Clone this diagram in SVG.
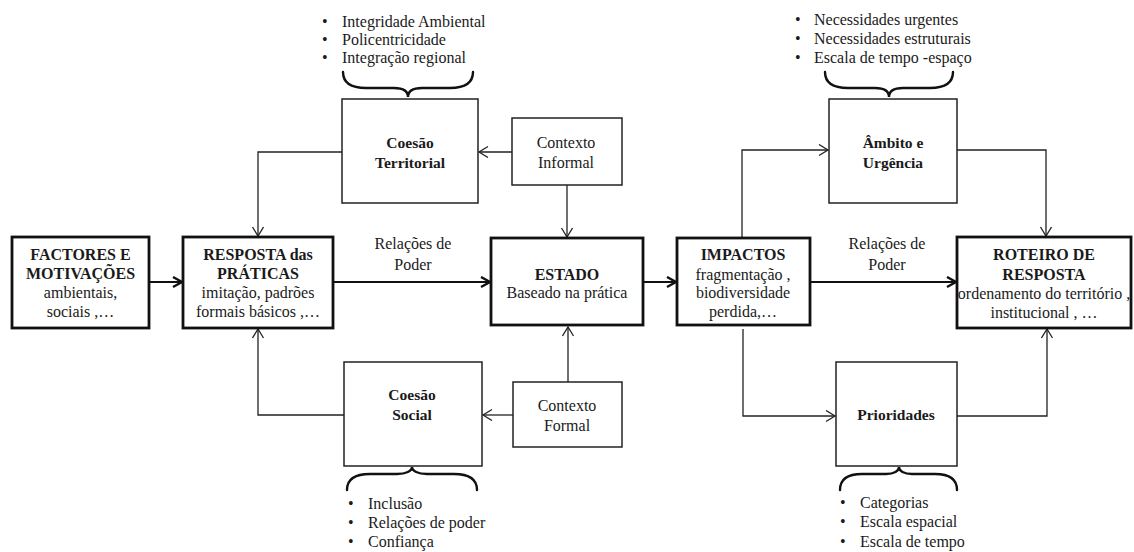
<svg xmlns="http://www.w3.org/2000/svg" width="1134" height="552" viewBox="0 0 1134 552">
  <style>
    text { font-family: "Liberation Serif", "Times New Roman", serif; font-size: 16px; fill: #1a1a1a; }
    .b { font-weight: bold; }
    .c { text-anchor: middle; }
    .sub { font-size: 15.5px; }
    .main { fill: #fff; stroke: #111; stroke-width: 2.8; }
    .aux { fill: #fff; stroke: #222; stroke-width: 1.5; }
    .flow { fill: none; stroke: #111; stroke-width: 2; }
    .link { fill: none; stroke: #222; stroke-width: 1.3; }
    .brace { fill: none; stroke: #111; stroke-width: 2.4; stroke-linecap: round; }
  </style>
  <defs>
    <marker id="headBold" markerUnits="userSpaceOnUse" markerWidth="14" markerHeight="14" refX="10" refY="6" orient="auto">
      <path d="M1,1 L10,6 L1,11" fill="none" stroke="#111" stroke-width="2.4"/>
    </marker>
    <marker id="headThin" markerUnits="userSpaceOnUse" markerWidth="14" markerHeight="14" refX="10" refY="6" orient="auto">
      <path d="M1,0.5 L10,6 L1,11.5" fill="none" stroke="#222" stroke-width="1.3"/>
    </marker>
  </defs>

  <rect width="1134" height="552" fill="#fff"/>

  <!-- connectors -->
  <g id="connectors">
    <line class="flow" x1="150" y1="282" x2="182" y2="282" marker-end="url(#headBold)"/>
    <line class="flow" x1="334" y1="282" x2="490" y2="282" marker-end="url(#headBold)"/>
    <line class="flow" x1="644" y1="282" x2="676" y2="282" marker-end="url(#headBold)"/>
    <line class="flow" x1="811" y1="282" x2="956" y2="282" marker-end="url(#headBold)"/>

    <line class="link" x1="512" y1="152" x2="479" y2="152" marker-end="url(#headThin)"/>
    <polyline class="link" points="342,152 258,152 258,236" marker-end="url(#headThin)"/>
    <line class="link" x1="567" y1="185" x2="567" y2="237" marker-end="url(#headThin)"/>

    <line class="link" x1="513" y1="415" x2="483" y2="415" marker-end="url(#headThin)"/>
    <polyline class="link" points="344,415 258,415 258,329" marker-end="url(#headThin)"/>
    <line class="link" x1="568" y1="382" x2="568" y2="327" marker-end="url(#headThin)"/>

    <polyline class="link" points="742,237 742,150 828,150" marker-end="url(#headThin)"/>
    <polyline class="link" points="957,150 1046,150 1046,236" marker-end="url(#headThin)"/>
    <polyline class="link" points="743,329 743,416 835,416" marker-end="url(#headThin)"/>
    <polyline class="link" points="957,416 1047,416 1047,329" marker-end="url(#headThin)"/>
  </g>

  <!-- main chain -->
  <g id="factores">
    <rect class="main" x="12" y="237" width="137" height="91"/>
    <text class="b c" x="80.5" y="260">FACTORES E</text>
    <text class="b c" x="80.5" y="279">MOTIVAÇÕES</text>
    <text class="c" x="80.5" y="298">ambientais,</text>
    <text class="c" x="80.5" y="317">sociais ,…</text>
  </g>

  <g id="resposta">
    <rect class="main" x="183" y="237" width="150" height="91"/>
    <text class="b c" x="258" y="260">RESPOSTA das</text>
    <text class="b c" x="258" y="279">PRÁTICAS</text>
    <text class="c" x="258" y="298">imitação, padrões</text>
    <text class="c" x="258" y="317">formais básicos ,…</text>
  </g>

  <g id="estado">
    <rect class="main" x="491" y="238" width="152" height="87"/>
    <text class="b c" x="567" y="280">ESTADO</text>
    <text class="c" x="567" y="298">Baseado na prática</text>
  </g>

  <g id="impactos">
    <rect class="main" x="677" y="238" width="133" height="87"/>
    <text class="b c" x="743" y="260">IMPACTOS</text>
    <text class="c" x="743" y="280">fragmentação ,</text>
    <text class="c" x="743" y="298">biodiversidade</text>
    <text class="c" x="743" y="317">perdida,…</text>
  </g>

  <g id="roteiro">
    <rect class="main" x="957" y="237" width="174" height="91"/>
    <text class="b c" x="1044" y="260">ROTEIRO DE</text>
    <text class="b c" x="1044" y="280">RESPOSTA</text>
    <text class="c" x="1044" y="299">ordenamento do território ,</text>
    <text class="c" x="1044" y="318">institucional , …</text>
  </g>

  <!-- edge labels -->
  <g id="label-poder-1">
    <text class="c" x="413" y="249">Relações de</text>
    <text class="c" x="413" y="270">Poder</text>
  </g>
  <g id="label-poder-2">
    <text class="c" x="887" y="249">Relações de</text>
    <text class="c" x="887" y="270">Poder</text>
  </g>

  <!-- upper side -->
  <g id="coesao-territorial">
    <rect class="aux" x="342" y="99" width="136" height="104"/>
    <text class="b c sub" x="410" y="148">Coesão</text>
    <text class="b c sub" x="410" y="168">Territorial</text>
    <path class="brace" d="M343,72 C343,84 352,88 366,88 L394,88 C403,88 408,91 408,97 C408,91 413,88 422,88 L450,88 C464,88 473,84 473,72"/>
    <text x="322" y="27">•</text>
    <text x="342" y="27">Integridade Ambiental</text>
    <text x="322" y="45">•</text>
    <text x="342" y="45">Policentricidade</text>
    <text x="322" y="63">•</text>
    <text x="342" y="63">Integração regional</text>
  </g>

  <g id="contexto-informal">
    <rect class="aux" x="512" y="118" width="110" height="67"/>
    <text class="c" x="566" y="148">Contexto</text>
    <text class="c" x="566" y="168">Informal</text>
  </g>

  <g id="ambito">
    <rect class="aux" x="829" y="99" width="128" height="104"/>
    <text class="b c sub" x="893" y="148">Âmbito e</text>
    <text class="b c sub" x="893" y="168">Urgência</text>
    <path class="brace" d="M825,72 C825,84 834,88 848,88 L875,88 C884,88 889,91 889,97 C889,91 894,88 903,88 L930,88 C944,88 953,84 953,72"/>
    <text x="795" y="25">•</text>
    <text x="814" y="25">Necessidades urgentes</text>
    <text x="795" y="44">•</text>
    <text x="814" y="44">Necessidades estruturais</text>
    <text x="795" y="63">•</text>
    <text x="814" y="63">Escala de tempo -espaço</text>
  </g>

  <!-- lower side -->
  <g id="coesao-social">
    <rect class="aux" x="344" y="362" width="138" height="104"/>
    <text class="b c sub" x="412" y="400">Coesão</text>
    <text class="b c sub" x="412" y="420">Social</text>
    <path class="brace" d="M347,490 C347,478 356,474 370,474 L397,474 C406,474 412,471 412,467 C412,471 418,474 427,474 L454,474 C468,474 477,478 477,490"/>
    <text x="348" y="509">•</text>
    <text x="368" y="509">Inclusão</text>
    <text x="348" y="528">•</text>
    <text x="368" y="528">Relações de poder</text>
    <text x="348" y="547">•</text>
    <text x="368" y="547">Confiança</text>
  </g>

  <g id="contexto-formal">
    <rect class="aux" x="513" y="382" width="109" height="65"/>
    <text class="c" x="567" y="411">Contexto</text>
    <text class="c" x="567" y="431">Formal</text>
  </g>

  <g id="prioridades">
    <rect class="aux" x="836" y="362" width="121" height="104"/>
    <text class="b c sub" x="896" y="420">Prioridades</text>
    <path class="brace" d="M840,490 C840,478 849,474 862,474 L886,474 C894,474 899,471 899,467 C899,471 904,474 912,474 L935,474 C948,474 957,478 957,490"/>
    <text x="840" y="508">•</text>
    <text x="860" y="508">Categorias</text>
    <text x="840" y="527">•</text>
    <text x="860" y="527">Escala espacial</text>
    <text x="840" y="547">•</text>
    <text x="860" y="547">Escala de tempo</text>
  </g>
</svg>
